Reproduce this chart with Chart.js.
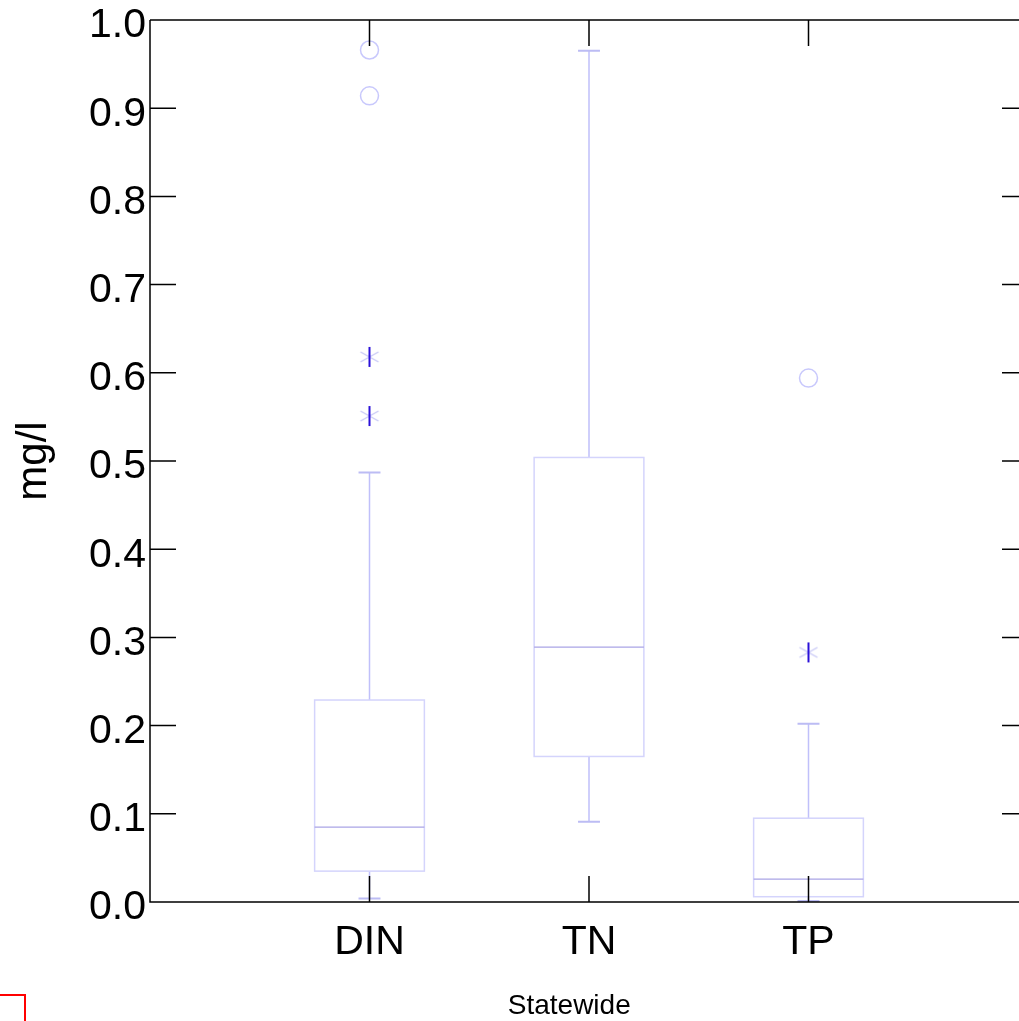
<!DOCTYPE html>
<html>
<head>
<meta charset="utf-8">
<script src="https://cdn.jsdelivr.net/npm/chart.js@4.4.1/dist/chart.umd.min.js"></script>
<style>
  html, body { margin: 0; padding: 0; background: #fff; overflow: hidden; }
  #wrap { position: absolute; left: 0; top: 0; width: 1040px; height: 1021px; }
</style>
</head>
<body>
<div id="wrap"><canvas id="boxChart" width="1040" height="1021"></canvas></div>
<script>
const categories = ['DIN', 'TN', 'TP'];
const whiskerLow = [0.004, 0.091, 0.001];
const q1 = [0.035, 0.165, 0.006];
const median = [0.085, 0.289, 0.026];
const q3 = [0.229, 0.504, 0.095];
const whiskerHigh = [0.487, 0.965, 0.202];

// far outliers (circles) and near outliers (asterisks)
const circleCat = ['DIN', 'DIN', 'TP'];
const circleVal = [0.966, 0.914, 0.594];
const starCat = ['DIN', 'DIN', 'TP'];
const starVal = [0.618, 0.551, 0.283];

const yTicks = [0, 0.1, 0.2, 0.3, 0.4, 0.5, 0.6, 0.7, 0.8, 0.9, 1.0];
const xTitle = 'Statewide';
const yTitle = 'mg/l';

const FONT = '"Liberation Sans", Arial, sans-serif';

function pos(cat) {
  return categories.indexOf(cat) + 1;
}

// asterisk marker: strong vertical stroke, pale flat diagonals
function makeStar() {
  const c = document.createElement('canvas');
  c.width = 22;
  c.height = 22;
  const g = c.getContext('2d');
  g.strokeStyle = '#c8c8f6';
  g.lineWidth = 1.4;
  g.beginPath();
  g.moveTo(2, 6); g.lineTo(20, 16);
  g.moveTo(2, 16); g.lineTo(20, 6);
  g.stroke();
  g.strokeStyle = '#2a10d8';
  g.lineWidth = 2;
  g.beginPath();
  g.moveTo(11, 1); g.lineTo(11, 21);
  g.stroke();
  return c;
}

const boxPlugin = {
  id: 'boxes',
  beforeDatasetsDraw(chart) {
    const { ctx, scales: { x, y } } = chart;
    ctx.save();
    categories.forEach((c, i) => {
      const cx = x.getPixelForValue(i + 1);
      const half = x.getPixelForValue(i + 1.25) - cx;
      const cap = x.getPixelForValue(i + 1.05) - cx;
      const top = y.getPixelForValue(q3[i]);
      const bot = y.getPixelForValue(q1[i]);
      // whiskers
      ctx.strokeStyle = '#c0c0fa';
      ctx.lineWidth = 1.5;
      ctx.beginPath();
      ctx.moveTo(cx, top);
      ctx.lineTo(cx, y.getPixelForValue(whiskerHigh[i]));
      ctx.moveTo(cx, bot);
      ctx.lineTo(cx, y.getPixelForValue(whiskerLow[i]));
      ctx.stroke();
      ctx.strokeStyle = '#bcbcf4';
      ctx.lineWidth = 2;
      ctx.beginPath();
      ctx.moveTo(cx - cap, y.getPixelForValue(whiskerHigh[i]));
      ctx.lineTo(cx + cap, y.getPixelForValue(whiskerHigh[i]));
      ctx.moveTo(cx - cap, y.getPixelForValue(whiskerLow[i]));
      ctx.lineTo(cx + cap, y.getPixelForValue(whiskerLow[i]));
      ctx.stroke();
      // box
      ctx.fillStyle = '#ffffff';
      ctx.fillRect(cx - half, top, half * 2, bot - top);
      ctx.strokeStyle = '#d4d4fc';
      ctx.lineWidth = 1.5;
      ctx.strokeRect(cx - half, top, half * 2, bot - top);
      // median
      ctx.strokeStyle = '#aaa4e6';
      ctx.lineWidth = 1.2;
      ctx.beginPath();
      ctx.moveTo(cx - half, y.getPixelForValue(median[i]));
      ctx.lineTo(cx + half, y.getPixelForValue(median[i]));
      ctx.stroke();
    });
    ctx.restore();
  },
  afterDraw(chart) {
    const { ctx, chartArea: a, scales: { x, y } } = chart;
    ctx.save();
    ctx.strokeStyle = '#000';
    ctx.lineWidth = 1.5;
    ctx.beginPath();
    ctx.moveTo(a.left, a.top);
    ctx.lineTo(a.left, a.bottom);
    ctx.lineTo(a.right, a.bottom);
    ctx.lineTo(a.right, a.top);
    ctx.lineTo(a.left, a.top);
    yTicks.forEach(v => {
      const py = y.getPixelForValue(v);
      ctx.moveTo(a.left, py);
      ctx.lineTo(a.left + 26, py);
      ctx.moveTo(a.right, py);
      ctx.lineTo(a.right - 26, py);
    });
    categories.forEach((c, i) => {
      const px = x.getPixelForValue(i + 1);
      ctx.moveTo(px, a.bottom);
      ctx.lineTo(px, a.bottom - 26);
      ctx.moveTo(px, a.top);
      ctx.lineTo(px, a.top + 26);
    });
    ctx.stroke();

    // x title
    ctx.fillStyle = '#000';
    ctx.font = '28px ' + FONT;
    ctx.textAlign = 'center';
    ctx.textBaseline = 'middle';
    ctx.fillText(xTitle, x.getPixelForValue(1.91), 1006);

    // red corner mark
    ctx.strokeStyle = '#ff0000';
    ctx.lineWidth = 2;
    ctx.beginPath();
    ctx.moveTo(0, 995);
    ctx.lineTo(25, 995);
    ctx.lineTo(25, chart.height);
    ctx.stroke();
    ctx.restore();
  }
};

new Chart(document.getElementById('boxChart'), {
  type: 'scatter',
  data: {
    datasets: [
      {
        label: 'far outliers',
        data: circleCat.map((c, i) => ({ x: pos(c), y: circleVal[i] })),
        pointStyle: 'circle',
        pointRadius: 9,
        borderColor: '#c8c8fc',
        backgroundColor: 'rgba(0,0,0,0)',
        borderWidth: 1.5
      },
      {
        label: 'near outliers',
        data: starCat.map((c, i) => ({ x: pos(c), y: starVal[i] })),
        pointStyle: makeStar(),
        pointRadius: 11
      }
    ]
  },
  options: {
    responsive: false,
    animation: false,
    layout: { padding: { top: 20, right: 9, left: 0, bottom: 0 } },
    plugins: {
      legend: { display: false },
      tooltip: { enabled: false }
    },
    scales: {
      x: {
        type: 'linear',
        min: 0,
        max: 4,
        afterBuildTicks: scale => {
          scale.ticks = categories.map((c, i) => ({ value: i + 1 }));
        },
        afterFit: scale => {
          scale.height = 119;
          scale.paddingLeft = 0;
          scale.paddingRight = 0;
        },
        grid: { display: false, drawTicks: false },
        border: { display: false },
        ticks: {
          autoSkip: false,
          maxRotation: 0,
          padding: 20,
          color: '#000',
          font: { size: 41, family: FONT, lineHeight: 1 },
          callback: v => categories[v - 1]
        }
      },
      y: {
        min: 0,
        max: 1,
        afterBuildTicks: scale => {
          scale.ticks = yTicks.map(v => ({ value: v }));
        },
        afterFit: scale => {
          scale.width = 150;
          scale.paddingTop = 0;
          scale.paddingBottom = 0;
        },
        grid: { display: false, drawTicks: false },
        border: { display: false },
        ticks: {
          padding: 4,
          color: '#000',
          // labels sit a little below their tick, as in the original
          font: { size: 41, family: FONT, lineHeight: '12px' },
          callback: v => ['', v.toFixed(1)]
        },
        title: {
          display: true,
          text: yTitle,
          color: '#000',
          font: { size: 42, family: FONT, lineHeight: 1 },
          padding: { top: 13, bottom: 0 }
        }
      }
    }
  },
  plugins: [boxPlugin]
});
</script>
</body>
</html>
